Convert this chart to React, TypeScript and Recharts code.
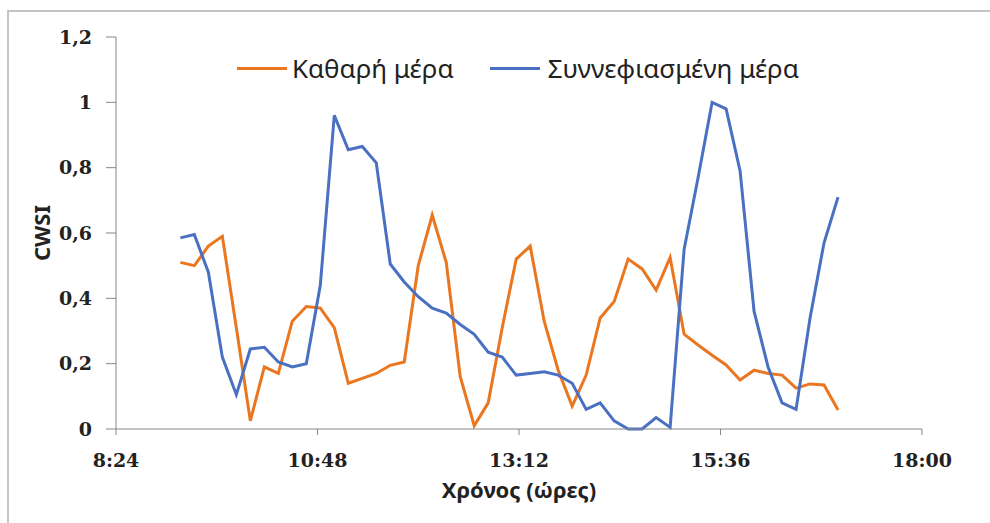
import React from 'react';
import { LineChart, Line, XAxis, YAxis } from 'recharts';

// sample times (10 min steps), 9:10 .. 17:00
const times = [
  '9:10', '9:20', '9:30', '9:40', '9:50', '10:00', '10:10', '10:20', '10:30', '10:40',
  '10:50', '11:00', '11:10', '11:20', '11:30', '11:40', '11:50', '12:00', '12:10', '12:20',
  '12:30', '12:40', '12:50', '13:00', '13:10', '13:20', '13:30', '13:40', '13:50', '14:00',
  '14:10', '14:20', '14:30', '14:40', '14:50', '15:00', '15:10', '15:20', '15:30', '15:40',
  '15:50', '16:00', '16:10', '16:20', '16:30', '16:40', '16:50', '17:00',
];

const clearDay = [
  0.51, 0.5, 0.56, 0.59, 0.31, 0.025, 0.19, 0.17, 0.33, 0.375,
  0.37, 0.31, 0.14, 0.155, 0.17, 0.195, 0.205, 0.5, 0.655, 0.51,
  0.16, 0.01, 0.08, 0.31, 0.52, 0.56, 0.33, 0.18, 0.07, 0.165,
  0.34, 0.39, 0.52, 0.49, 0.425, 0.525, 0.29, 0.257, 0.226, 0.196,
  0.15, 0.18, 0.17, 0.165, 0.125, 0.138, 0.135, 0.058,
];

const cloudyDay = [
  0.585, 0.595, 0.48, 0.22, 0.105, 0.245, 0.25, 0.205, 0.19, 0.2,
  0.44, 0.96, 0.855, 0.865, 0.815, 0.505, 0.45, 0.405, 0.37, 0.355,
  0.32, 0.29, 0.235, 0.22, 0.165, 0.17, 0.175, 0.165, 0.14, 0.06,
  0.08, 0.025, 0.0, 0.0, 0.035, 0.005, 0.55, 0.77, 1.0, 0.98,
  0.79, 0.36, 0.19, 0.08, 0.06, 0.34, 0.57, 0.71,
];

const xTicks = ['8:24', '10:48', '13:12', '15:36', '18:00'];
const yTicks = [0, 0.2, 0.4, 0.6, 0.8, 1, 1.2];

const toMin = (s: string) => {
  const [h, m] = s.split(':').map(Number);
  return h * 60 + m;
};
const fmtTime = (v: number) => `${Math.floor(v / 60)}:${String(v % 60).padStart(2, '0')}`;

const data = times.map((t, i) => ({ t: toMin(t), clear: clearDay[i], cloudy: cloudyDay[i] }));

const ORANGE = '#EA7720';
const BLUE = '#4A70C2';
const tickFont = { fontFamily: 'DejaVu Serif', fontWeight: 'bold', fontSize: 19, fill: '#222' };
const titleStyle = { fontFamily: 'Noto Sans', fontWeight: 'bold', fontSize: 22, fill: '#222' };

const ChartLegend = () => (
  <div style={{ position: 'absolute', top: 50, left: 237, display: 'flex', alignItems: 'center', fontFamily: 'Noto Sans', fontSize: 26, color: '#222', whiteSpace: 'nowrap' }}>
    <span style={{ width: 50, height: 3, background: ORANGE, display: 'inline-block', marginRight: 5 }} />
    <span>Καθαρή μέρα</span>
    <span style={{ width: 50, height: 3, background: BLUE, display: 'inline-block', marginLeft: 36, marginRight: 8 }} />
    <span>Συννεφιασμένη μέρα</span>
  </div>
);

export default function App() {
  return (
    <div style={{ position: 'absolute', left: 0, top: 0, width: 990, height: 523, background: '#fff', overflow: 'hidden' }}>
      <div style={{ position: 'absolute', left: 7, top: 10, width: 1000, height: 600, borderTop: '2px solid #c4c4c4', borderLeft: '2px solid #c4c4c4' }} />
      <LineChart width={990} height={523} data={data} margin={{ top: 37, right: 68, bottom: 34, left: 56 }}>
        <XAxis
          dataKey="t"
          type="number"
          domain={[504, 1080]}
          ticks={xTicks.map(toMin)}
          tickFormatter={fmtTime}
          height={60}
          stroke="#868686"
          tickSize={6}
          tickMargin={19}
          tick={tickFont}
          label={{ value: 'Χρόνος (ώρες)', position: 'bottom', offset: -7, style: titleStyle }}
        />
        <YAxis
          type="number"
          domain={[0, 1.2]}
          ticks={yTicks}
          tickFormatter={(v: number) => String(Math.round(v * 10) / 10).replace('.', ',')}
          width={60}
          stroke="#868686"
          tickSize={10}
          tickMargin={14}
          tick={tickFont}
          label={{ value: 'CWSI', angle: -90, position: 'left', offset: 14, style: { ...titleStyle, textAnchor: 'middle' } }}
        />
        <Line dataKey="clear" name="Καθαρή μέρα" stroke={ORANGE} strokeWidth={3} dot={false} isAnimationActive={false} />
        <Line dataKey="cloudy" name="Συννεφιασμένη μέρα" stroke={BLUE} strokeWidth={3} dot={false} isAnimationActive={false} />
      </LineChart>
      <ChartLegend />
    </div>
  );
}
